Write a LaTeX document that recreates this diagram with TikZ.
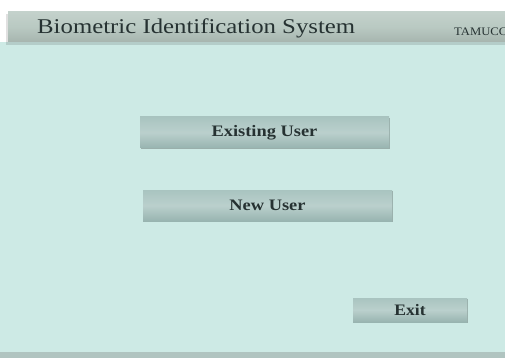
\documentclass[tikz,border=0pt]{standalone}
\usepackage{fontspec}
\setmainfont{Liberation Serif}
\usetikzlibrary{shadows}
\definecolor{bgc}{HTML}{CDEAE5}
\definecolor{hdrc}{HTML}{B9C9C2}
\definecolor{btnc}{HTML}{A9C4C0}
\definecolor{btnd}{HTML}{98B4B0}
\definecolor{txtc}{HTML}{263232}
\definecolor{botc}{HTML}{B0C4C0}
\tikzset{
  px/.style={x=1pt,y=-1pt},
  btn/.style={draw=none, top color=btnc, bottom color=btnd, middle color=btnc!80!white,
    drop shadow={shadow xshift=0.8pt, shadow yshift=-1.2pt, opacity=0.25, fill=black},
    text=txtc, font=\fontsize{16}{16}\selectfont\bfseries, inner sep=0pt},
}
\newcommand{\wide}[2]{\scalebox{#1}[1]{#2}}
\begin{document}
\begin{tikzpicture}[px]
\useasboundingbox (0,0) rectangle (505,358);
\clip (0,0) rectangle (505,358);
\fill[white] (0,0) rectangle (505,358);
\fill[bgc] (0,42) rectangle (505,358);
\fill[botc] (0,352) rectangle (505,358);
% header
\fill[black, opacity=0.12] (6,14) rectangle (505,45);
\shade[top color=hdrc!85!white, bottom color=hdrc!90!black, middle color=hdrc] (8,12) rectangle (505,42);
\node[anchor=base west, text=txtc, font=\fontsize{21}{21}\selectfont, inner sep=0pt] (title) at (37,34) {\wide{1.18}{Biometric Identification System}};
\node[anchor=base west, text=txtc, font=\fontsize{11.5}{11.5}\selectfont, inner sep=0pt] (tam) at (454,36) {\wide{1.1}{TAMUCC}};
% buttons
\node[btn, minimum width=249pt, minimum height=31pt] (exist) at (264.5,132.5) {\wide{1.15}{Existing User}};
\node[btn, minimum width=249pt, minimum height=31pt] (newu) at (267.5,205.5) {\wide{1.15}{New User}};
\node[btn, minimum width=114pt, minimum height=24pt] (exit) at (410,310) {\wide{1.1}{Exit}};
\end{tikzpicture}
\end{document}
